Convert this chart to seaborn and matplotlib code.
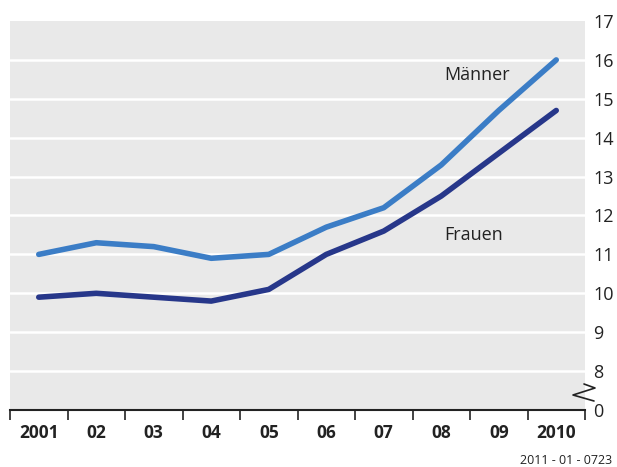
import matplotlib
matplotlib.use("Agg")
import matplotlib.pyplot as plt
import seaborn as sns
import pandas as pd
from matplotlib.lines import Line2D

years = ["2001", "02", "03", "04", "05", "06", "07", "08", "09", "2010"]
maenner = [11.0, 11.3, 11.2, 10.9, 11.0, 11.7, 12.2, 13.3, 14.7, 16.0]
frauen = [9.9, 10.0, 9.9, 9.8, 10.1, 11.0, 11.6, 12.5, 13.6, 14.7]
y_ticks = [7, 8, 9, 10, 11, 12, 13, 14, 15, 16, 17]
y_tick_labels = ["0", "8", "9", "10", "11", "12", "13", "14", "15", "16", "17"]

sns.set_theme(style="white")
plt.rcParams["font.family"] = ["Open Sans", "DejaVu Sans"]

df = pd.DataFrame({
    "pos": list(range(len(years))) * 2,
    "wert": maenner + frauen,
    "gruppe": ["Männer"] * len(years) + ["Frauen"] * len(years),
})

fig = plt.figure(figsize=(6.17, 4.67), dpi=100)
ax = fig.add_axes([10 / 617, 57 / 467, 575 / 617, 389 / 467])
ax.set_facecolor("#e9e9e9")

for y in y_ticks[1:-1]:
    ax.axhline(y, color="white", lw=1.8, zorder=1)

sns.lineplot(data=df, x="pos", y="wert", hue="gruppe",
             palette={"Männer": "#3b7dc6", "Frauen": "#27378a"},
             lw=4.0, legend=False, ax=ax, zorder=3)
for line in ax.lines:
    line.set_solid_capstyle("round")

ax.set_xlim(-0.5, len(years) - 0.5)
ax.set_ylim(7, 17)
ax.set_xlabel("")
ax.set_ylabel("")

# category boundaries as tick marks, labels centred between them
ax.set_xticks([i - 0.5 for i in range(len(years) + 1)])
ax.set_xticklabels([])
ax.set_xticks(range(len(years)), minor=True)
ax.set_xticklabels(years, minor=True, fontsize=12.5, fontweight="bold", color="#222222")
ax.tick_params(axis="x", which="major", direction="out", length=7, width=1.2, color="#222222", bottom=True)
ax.tick_params(axis="x", which="minor", length=0, pad=10)

ax.yaxis.tick_right()
ax.set_yticks(y_ticks)
ax.set_yticklabels(y_tick_labels, fontsize=13, color="#222222")
ax.tick_params(axis="y", length=0, pad=6)

for side in ["top", "left", "right"]:
    ax.spines[side].set_visible(False)
ax.spines["bottom"].set_color("#222222")
ax.spines["bottom"].set_linewidth(1.5)

ax.text(7.05, 15.61, "Männer", fontsize=13, color="#222222", va="center", ha="left")
ax.text(7.05, 11.5, "Frauen", fontsize=13, color="#222222", va="center", ha="left")

# axis break marker on the right edge
bx = [584, 595, 573, 594]
by = [384, 388, 395, 401]
fig.add_artist(Line2D([x / 617 for x in bx], [1 - y / 467 for y in by],
                      color="#222222", lw=1.2, transform=fig.transFigure))

fig.text(612 / 617, 1 - 461 / 467, "2011 - 01 - 0723", fontsize=9,
         color="#222222", ha="right", va="center")

fig.savefig("out.png", dpi=100)
